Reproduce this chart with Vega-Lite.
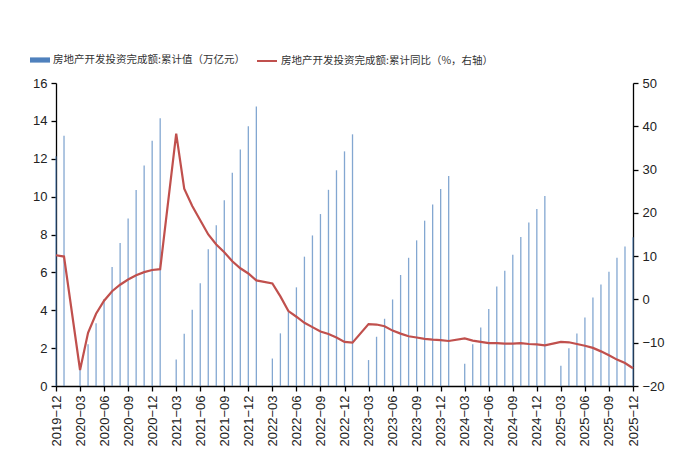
{
  "$schema": "https://vega.github.io/schema/vega-lite/v6.json",
  "width": 577,
  "height": 303,
  "autosize": "none",
  "padding": {"left": 56, "top": 83, "right": 61, "bottom": 73},
  "background": "white",
  "config": {
    "view": {"stroke": null},
    "axis": {"labelFont": "Liberation Sans", "labelFontSize": 13, "labelColor": "#222", "domainColor": "#000", "tickColor": "#000", "grid": false, "title": null, "domainWidth": 1.3, "tickWidth": 1.3, "tickSize": 5},
    "legend": {"labelFont": "Noto Sans CJK SC", "labelFontSize": 10.5, "labelColor": "#333", "title": null, "orient": "none", "labelLimit": 400}
  },
  "data": {"values": [
    {"m": "2019-12", "v": 12.13, "g": 10.2},
    {"m": "2020-01", "v": 13.22, "g": 9.9},
    {"m": "2020-03", "v": 1.01, "g": -16.3},
    {"m": "2020-04", "v": 2.20, "g": -7.7},
    {"m": "2020-05", "v": 3.31, "g": -3.3},
    {"m": "2020-06", "v": 4.59, "g": -0.3},
    {"m": "2020-07", "v": 6.28, "g": 1.9},
    {"m": "2020-08", "v": 7.55, "g": 3.4},
    {"m": "2020-09", "v": 8.85, "g": 4.6},
    {"m": "2020-10", "v": 10.35, "g": 5.6},
    {"m": "2020-11", "v": 11.64, "g": 6.3},
    {"m": "2020-12", "v": 12.95, "g": 6.8},
    {"m": "2021-01", "v": 14.14, "g": 7.0},
    {"m": "2021-03", "v": 1.40, "g": 38.3},
    {"m": "2021-04", "v": 2.76, "g": 25.6},
    {"m": "2021-05", "v": 4.02, "g": 21.6},
    {"m": "2021-06", "v": 5.43, "g": 18.3},
    {"m": "2021-07", "v": 7.22, "g": 15.0},
    {"m": "2021-08", "v": 8.49, "g": 12.7},
    {"m": "2021-09", "v": 9.81, "g": 10.9},
    {"m": "2021-10", "v": 11.26, "g": 8.8},
    {"m": "2021-11", "v": 12.49, "g": 7.2},
    {"m": "2021-12", "v": 13.72, "g": 6.0},
    {"m": "2022-01", "v": 14.76, "g": 4.4},
    {"m": "2022-03", "v": 1.45, "g": 3.7},
    {"m": "2022-04", "v": 2.78, "g": 0.7},
    {"m": "2022-05", "v": 3.92, "g": -2.7},
    {"m": "2022-06", "v": 5.21, "g": -4.0},
    {"m": "2022-07", "v": 6.83, "g": -5.4},
    {"m": "2022-08", "v": 7.95, "g": -6.4},
    {"m": "2022-09", "v": 9.08, "g": -7.4},
    {"m": "2022-10", "v": 10.36, "g": -8.0},
    {"m": "2022-11", "v": 11.39, "g": -8.8},
    {"m": "2022-12", "v": 12.39, "g": -9.8},
    {"m": "2023-01", "v": 13.29, "g": -10.0},
    {"m": "2023-03", "v": 1.37, "g": -5.7},
    {"m": "2023-04", "v": 2.60, "g": -5.8},
    {"m": "2023-05", "v": 3.55, "g": -6.2},
    {"m": "2023-06", "v": 4.57, "g": -7.2},
    {"m": "2023-07", "v": 5.86, "g": -7.9},
    {"m": "2023-08", "v": 6.77, "g": -8.5},
    {"m": "2023-09", "v": 7.69, "g": -8.8},
    {"m": "2023-10", "v": 8.73, "g": -9.1},
    {"m": "2023-11", "v": 9.59, "g": -9.3},
    {"m": "2023-12", "v": 10.40, "g": -9.4},
    {"m": "2024-01", "v": 11.09, "g": -9.6},
    {"m": "2024-03", "v": 1.18, "g": -9.0},
    {"m": "2024-04", "v": 2.21, "g": -9.5},
    {"m": "2024-05", "v": 3.09, "g": -9.8},
    {"m": "2024-06", "v": 4.06, "g": -10.1},
    {"m": "2024-07", "v": 5.25, "g": -10.1},
    {"m": "2024-08", "v": 6.09, "g": -10.2},
    {"m": "2024-09", "v": 6.93, "g": -10.2},
    {"m": "2024-10", "v": 7.87, "g": -10.1},
    {"m": "2024-11", "v": 8.63, "g": -10.3},
    {"m": "2024-12", "v": 9.34, "g": -10.4},
    {"m": "2025-01", "v": 10.03, "g": -10.6},
    {"m": "2025-03", "v": 1.07, "g": -9.8},
    {"m": "2025-04", "v": 1.99, "g": -9.9},
    {"m": "2025-05", "v": 2.77, "g": -10.3},
    {"m": "2025-06", "v": 3.62, "g": -10.7},
    {"m": "2025-07", "v": 4.67, "g": -11.2},
    {"m": "2025-08", "v": 5.36, "g": -12.0},
    {"m": "2025-09", "v": 6.03, "g": -12.9},
    {"m": "2025-10", "v": 6.77, "g": -13.9},
    {"m": "2025-11", "v": 7.36, "g": -14.7},
    {"m": "2025-12", "v": 7.86, "g": -15.9}
  ]},
  "encoding": {
    "x": {
      "field": "m", "type": "ordinal",
      "scale": {"type": "point", "padding": 0, "domain": ["2019-12","2020-01","2020-02","2020-03","2020-04","2020-05","2020-06","2020-07","2020-08","2020-09","2020-10","2020-11","2020-12","2021-01","2021-02","2021-03","2021-04","2021-05","2021-06","2021-07","2021-08","2021-09","2021-10","2021-11","2021-12","2022-01","2022-02","2022-03","2022-04","2022-05","2022-06","2022-07","2022-08","2022-09","2022-10","2022-11","2022-12","2023-01","2023-02","2023-03","2023-04","2023-05","2023-06","2023-07","2023-08","2023-09","2023-10","2023-11","2023-12","2024-01","2024-02","2024-03","2024-04","2024-05","2024-06","2024-07","2024-08","2024-09","2024-10","2024-11","2024-12","2025-01","2025-02","2025-03","2025-04","2025-05","2025-06","2025-07","2025-08","2025-09","2025-10","2025-11","2025-12"]},
      "axis": {
        "values": ["2019-12","2020-03","2020-06","2020-09","2020-12","2021-03","2021-06","2021-09","2021-12","2022-03","2022-06","2022-09","2022-12","2023-03","2023-06","2023-09","2023-12","2024-03","2024-06","2024-09","2024-12","2025-03","2025-06","2025-09","2025-12"],
        "labelAngle": -90, "labelAlign": "right", "labelBaseline": "middle", "labelPadding": 4,
        "labelExpr": "replace(datum.value, '-', '−')"
      }
    }
  },
  "layer": [
    {
      "mark": {"type": "bar", "size": 1.3, "opacity": 0.7},
      "encoding": {
        "y": {"field": "v", "type": "quantitative", "scale": {"domain": [0, 16], "nice": false}, "axis": {"orient": "left", "values": [0,2,4,6,8,10,12,14,16], "labelPadding": 4}},
        "fill": {"datum": "房地产开发投资完成额:累计值（万亿元）", "type": "nominal", "scale": {"range": ["#4F81BD"]},
          "legend": {"legendX": -26, "legendY": -33, "symbolType": "M-1,-0.26H1V0.26H-1Z", "symbolSize": 400, "labelOffset": 3, "symbolStrokeWidth": 0, "symbolOpacity": 1}}
      }
    },
    {
      "mark": {"type": "line", "strokeWidth": 2.2},
      "encoding": {
        "y": {"field": "g", "type": "quantitative", "scale": {"domain": [-20, 50], "nice": false, "zero": false}, "axis": {"orient": "right", "values": [-20,-10,0,10,20,30,40,50], "labelPadding": 4}},
        "stroke": {"datum": "房地产开发投资完成额:累计同比（%，右轴）", "type": "nominal", "scale": {"range": ["#C0504D"]},
          "legend": {"legendX": 200, "legendY": -33, "symbolType": "M-1,0H1", "symbolSize": 400, "symbolStrokeWidth": 2, "labelOffset": 3}}
      }
    }
  ],
  "resolve": {"scale": {"y": "independent"}}
}
